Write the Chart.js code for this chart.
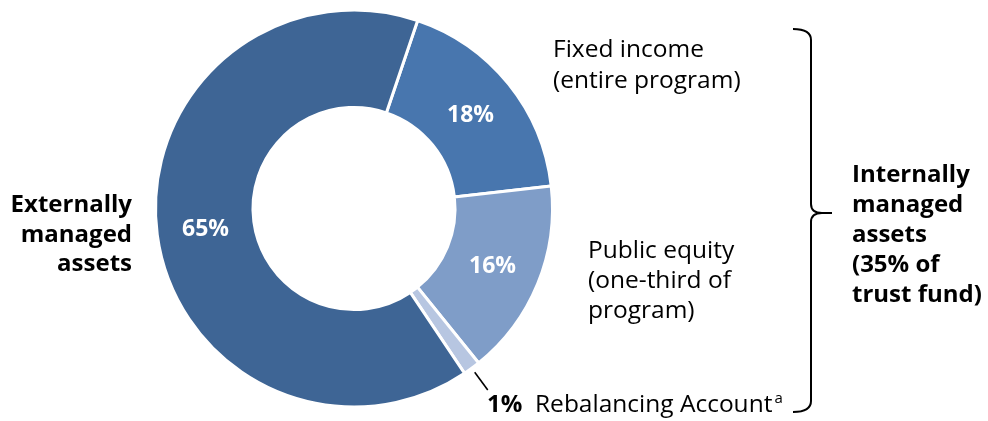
<!DOCTYPE html>
<html><head><meta charset="utf-8">
<script src="https://cdn.jsdelivr.net/npm/chart.js@4/dist/chart.umd.min.js"></script>
<style>html,body{margin:0;padding:0;background:#fff;overflow:hidden}</style>
</head><body>
<canvas id="c" width="988" height="421"></canvas>
<script>
// ---- data ----
const categories = ['Fixed income (entire program)', 'Public equity (one-third of program)', 'Rebalancing Account', 'Externally managed assets'];
const shares = [18, 16, 1.4, 64.6];
const valueLabels = ['18%', '16%', '1%', '65%'];
const fixedIncomeLines = ['Fixed income', '(entire program)'];
const publicEquityLines = ['Public equity', '(one-third of', 'program)'];
const rebalancingText = 'Rebalancing Account';
const rebalancingNote = 'a';
const externalLines = ['Externally', 'managed', 'assets'];
const internalLines = ['Internally', 'managed', 'assets', '(35% of', 'trust fund)'];

// ---- styles ----
const sliceColors = ['#4876AE', '#7F9DC8', '#B7C6E1', '#3E6595'];
const FONT = '"Open Sans", "Noto Sans", sans-serif';

const annotate = {
  id: 'annotate',
  afterDatasetsDraw(chart) {
    const ctx = chart.ctx;
    const arcs = chart.getDatasetMeta(0).data;
    ctx.save();
    // in-slice value labels
    ctx.fillStyle = '#ffffff';
    ctx.font = 'bold 23px ' + FONT;
    ctx.textAlign = 'center';
    ctx.textBaseline = 'middle';
    arcs.forEach((arc, i) => {
      if (i === 2) return;
      const p = arc.getCenterPoint();
      ctx.fillText(valueLabels[i], p.x, p.y + 1);
    });
    // leader line for the small slice
    const a = arcs[2];
    const mid = (a.startAngle + a.endAngle) / 2;
    const r1 = a.outerRadius + 5, r2 = a.outerRadius + 27;
    ctx.strokeStyle = '#000';
    ctx.lineWidth = 1.6;
    ctx.beginPath();
    ctx.moveTo(a.x + Math.cos(mid) * r1, a.y + Math.sin(mid) * r1);
    ctx.lineTo(a.x + Math.cos(mid) * r2, a.y + Math.sin(mid) * r2);
    ctx.stroke();

    ctx.fillStyle = '#000';
    ctx.textBaseline = 'alphabetic';
    ctx.textAlign = 'left';
    ctx.font = 'bold 24px ' + FONT;
    ctx.fillText(valueLabels[2], 487, 412);
    ctx.font = '24.5px ' + FONT;
    ctx.fillText(rebalancingText, 535, 412);
    const w = ctx.measureText(rebalancingText).width;
    ctx.font = '15px ' + FONT;
    ctx.fillText(rebalancingNote, 535 + w + 2, 403);

    // category labels
    ctx.font = '24.5px ' + FONT;
    fixedIncomeLines.forEach((t, k) => ctx.fillText(t, 553, 57 + k * 31));
    publicEquityLines.forEach((t, k) => ctx.fillText(t, 588, 258 + k * 30));

    ctx.font = 'bold 24px ' + FONT;
    ctx.textAlign = 'right';
    externalLines.forEach((t, k) => ctx.fillText(t, 132, 212 + k * 29.5));
    ctx.textAlign = 'left';
    internalLines.forEach((t, k) => ctx.fillText(t, 852, 182 + k * 30));

    // brace
    ctx.strokeStyle = '#000';
    ctx.lineWidth = 2;
    ctx.beginPath();
    ctx.moveTo(793, 29);
    ctx.quadraticCurveTo(811, 29, 811, 40);
    ctx.lineTo(811, 204);
    ctx.quadraticCurveTo(811, 213, 822, 213);
    ctx.lineTo(832, 213);
    ctx.moveTo(822, 213);
    ctx.quadraticCurveTo(811, 213, 811, 222);
    ctx.lineTo(811, 401);
    ctx.quadraticCurveTo(811, 412, 793, 412);
    ctx.stroke();
    ctx.restore();
  }
};

new Chart(document.getElementById('c'), {
  type: 'doughnut',
  data: {
    labels: categories,
    datasets: [{
      data: shares,
      backgroundColor: sliceColors,
      borderColor: '#ffffff',
      borderWidth: 3,
      hoverOffset: 0
    }]
  },
  options: {
    responsive: false,
    animation: false,
    rotation: 18.7,
    radius: 198.5,
    cutout: '50.9%',
    layout: { padding: { top: 0, bottom: 4, left: 0, right: 280 } },
    plugins: { legend: { display: false }, tooltip: { enabled: false } },
    events: []
  },
  plugins: [annotate]
});
</script>
</body></html>
